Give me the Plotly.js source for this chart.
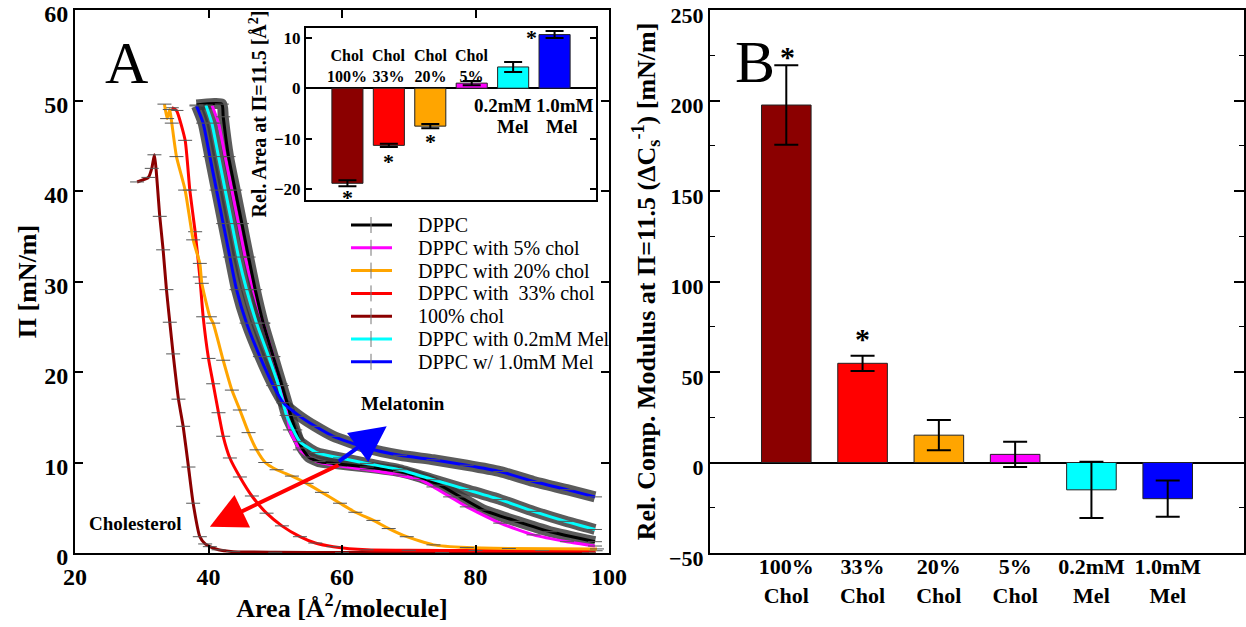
<!DOCTYPE html>
<html><head><meta charset="utf-8">
<script src="https://cdn.plot.ly/plotly-3.0.1.min.js"></script>
<style>html,body{margin:0;padding:0;background:#fff}#chart{width:1246px;height:627px}</style>
</head><body><div id="chart"></div>
<script>
// ---------------- Panel A: isotherms (Area [Å²/molecule], Π [mN/m]) ----------------
const seriesNames = ["DPPC", "DPPC with 5% chol", "DPPC with 20% chol", "DPPC with \u00a033% chol", "100% chol", "DPPC with 0.2mM Mel", "DPPC w/ 1.0mM Mel"];
const seriesColors = ["#000000", "#ff00ff", "#ffa500", "#ff0000", "#8b0000", "#00ffff", "#0000ff"];

const areaDPPC = [38.2, 42.0, 42.2, 43.0, 44.0, 45.0, 46.0, 47.0, 48.2, 49.7, 51.0, 52.0, 53.0, 54.0, 55.0, 56.5, 58.7, 63.7, 68.7, 71.7, 74.7, 77.7, 81.2, 86.2, 91.2, 97.9];
const piDPPC   = [49.5, 49.6, 48.2, 43.8, 40.1, 36.4, 32.7, 29.1, 25.4, 21.7, 18.5, 16.0, 13.6, 11.6, 10.6, 10.1, 9.9, 9.5, 9.0, 8.4, 7.5, 6.2, 4.75, 3.5, 2.35, 1.25];

const areaChol5 = [40.5, 41.5, 42.5, 43.5, 44.5, 45.5, 46.7, 48.2, 49.7, 50.8, 51.6, 52.2, 53.7, 56.2, 59.7, 63.7, 68.7, 71.7, 73.7, 76.2, 78.7, 83.7, 88.7, 93.7, 97.9];
const piChol5   = [49.5, 47.5, 43.8, 40.1, 36.4, 32.7, 29.1, 25.4, 21.7, 18.7, 16.0, 13.6, 11.4, 10.1, 9.6, 9.2, 8.6, 8.1, 7.3, 6.2, 5.1, 3.3, 2.0, 1.25, 0.77];

const areaChol20 = [33.4, 33.8, 34.2, 34.5, 35.2, 36.5, 37.7, 38.7, 39.0, 40.2, 40.7, 42.2, 43.5, 44.7, 46.0, 47.2, 48.5, 50.2, 52.5, 54.7, 57.0, 59.7, 62.0, 64.7, 67.0, 69.7, 73.7, 78.7, 85.0, 98.2];
const piChol20   = [49.6, 48.0, 49.0, 47.5, 43.8, 40.1, 34.6, 32.0, 29.8, 26.1, 25.4, 21.3, 18.0, 15.8, 13.3, 11.4, 10.0, 9.2, 8.5, 7.7, 6.7, 5.5, 4.5, 3.6, 2.7, 1.8, 0.9, 0.6, 0.5, 0.45];

const areaChol33 = [34.5, 35.2, 36.5, 37.2, 38.0, 38.7, 39.2, 40.0, 40.7, 41.5, 42.2, 43.2, 44.7, 46.5, 48.7, 51.0, 53.7, 56.0, 58.7, 63.7, 70.0, 80.0, 90.0, 98.0];
const piChol33   = [49.2, 48.9, 45.6, 40.1, 35.5, 30.5, 26.1, 21.5, 18.7, 15.5, 12.9, 10.5, 8.4, 6.3, 4.4, 3.0, 1.8, 1.1, 0.7, 0.35, 0.3, 0.28, 0.27, 0.25];

const areaChol100 = [29.3, 31.0, 31.5, 31.9, 32.7, 33.2, 33.7, 34.2, 34.7, 35.5, 36.2, 37.0, 37.7, 38.7, 39.5, 40.2, 41.5, 43.7, 50.0, 60.0, 75.0, 97.0];
const piChol100   = [41.0, 41.5, 42.5, 44.0, 37.2, 33.5, 29.1, 25.5, 22.0, 17.0, 14.0, 9.5, 5.5, 1.8, 1.0, 0.7, 0.35, 0.15, 0.08, 0.05, 0.04, 0.04];

const areaMel02 = [39.6, 40.5, 41.5, 42.5, 43.5, 44.5, 45.7, 47.2, 49.0, 50.5, 51.7, 53.7, 56.2, 59.7, 63.7, 68.7, 73.7, 78.7, 83.7, 88.7, 93.5, 97.9];
const piMel02   = [49.5, 47.5, 43.8, 40.1, 36.4, 32.7, 29.1, 25.4, 21.7, 18.5, 15.2, 12.3, 11.1, 10.5, 9.9, 9.2, 8.1, 7.0, 5.9, 4.6, 3.5, 2.6];

const areaMel10 = [38.2, 39.2, 40.2, 41.2, 42.2, 43.2, 44.2, 45.7, 47.7, 49.7, 51.2, 53.7, 56.0, 58.7, 63.7, 68.7, 73.7, 78.7, 83.7, 88.7, 93.7, 97.9];
const piMel10   = [49.4, 47.5, 43.8, 40.1, 36.4, 32.7, 29.1, 25.4, 21.7, 18.5, 16.6, 15.1, 14.0, 12.9, 11.6, 10.8, 10.3, 9.7, 9.0, 7.9, 7.0, 6.2];

// ---------------- Inset: relative area at Π=11.5 ----------------
const insetCholLabels = ["Chol<br>100%", "Chol<br>33%", "Chol<br>20%", "Chol<br>5%"];
const insetMelTop = ["0.2mM", "1.0mM"];
const insetMelBottom = ["Mel", "Mel"];
const relArea    = [-18.8, -11.3, -7.5, 1.0, 4.2, 10.6];
const relAreaErr = [0.6, 0.3, 0.4, 0.4, 1.0, 0.7];

// ---------------- Panel B: relative compressional modulus ----------------
const modLabels = ["100%<br>Chol", "33%<br>Chol", "20%<br>Chol", "5%<br>Chol", "0.2mM<br>Mel", "1.0mM<br>Mel"];
const modulus    = [197.5, 54.8, 15.1, 4.5, -15.1, -20.0];
const modulusErr = [22.0, 4.2, 8.4, 7.0, 15.5, 10.0];
const barColors = ["#8b0000", "#ff0000", "#ffa500", "#ff00ff", "#00ffff", "#0000ff"];
const barPos = [1, 2, 3, 4, 5, 6];

// ---------------- layout helpers ----------------
const W = 1246, H = 627;
const px = v => v / W;
const py = v => 1 - v / H;
const FONT = "Liberation Serif, Times New Roman, serif";

const curves = [
  [areaDPPC, piDPPC], [areaChol5, piChol5], [areaChol20, piChol20], [areaChol33, piChol33],
  [areaChol100, piChol100], [areaMel02, piMel02], [areaMel10, piMel10]
];
const banded = [0, 5, 6];

const traces = [];
banded.forEach(i => {
  traces.push({
    x: curves[i][0], y: curves[i][1], xaxis: 'x', yaxis: 'y', type: 'scatter', mode: 'lines',
    line: {color: 'rgba(55,55,55,0.82)', width: 11, shape: 'spline', smoothing: 0.5},
    showlegend: false, hoverinfo: 'skip'
  });
});
[4, 3, 2, 1, 0, 5, 6].forEach(i => {
  traces.push({
    x: curves[i][0], y: curves[i][1], xaxis: 'x', yaxis: 'y', type: 'scatter', mode: 'lines+markers',
    name: seriesNames[i],
    line: {color: seriesColors[i], width: 3, shape: 'spline', smoothing: 0.5},
    marker: {symbol: 'line-ew', size: 10, color: '#555', line: {color: '#555', width: 1}},
    showlegend: false
  });
});

// inset bars
traces.push({
  x: barPos, y: relArea, xaxis: 'x3', yaxis: 'y3', type: 'bar', width: 0.75,
  marker: {color: barColors, line: {color: '#222', width: 1}},
  error_y: {type: 'data', array: relAreaErr, visible: true, color: '#000', thickness: 2, width: 9},
  showlegend: false
});
// panel B bars
traces.push({
  x: barPos, y: modulus, xaxis: 'x2', yaxis: 'y2', type: 'bar', width: 0.65,
  marker: {color: barColors, line: {color: '#222', width: 1}},
  error_y: {type: 'data', array: modulusErr, visible: true, color: '#000', thickness: 2, width: 12},
  showlegend: false
});

const annotations = [];
const shapes = [];

// manual legend
seriesNames.forEach((n, i) => {
  const yy = 225 + i * 22.8;
  shapes.push({type: 'line', xref: 'paper', yref: 'paper', x0: px(351), x1: px(392), y0: py(yy), y1: py(yy),
    line: {color: seriesColors[i], width: 3}});
  shapes.push({type: 'line', xref: 'paper', yref: 'paper', x0: px(371), x1: px(371), y0: py(yy - 8), y1: py(yy + 8),
    line: {color: '#777', width: 1}});
  annotations.push({xref: 'paper', yref: 'paper', x: px(416), y: py(yy), xanchor: 'left', yanchor: 'middle',
    text: n, showarrow: false, font: {family: FONT, size: 20, color: '#000'}});
});

// panel letters
annotations.push({xref: 'paper', yref: 'paper', x: px(126), y: py(63), text: 'A', showarrow: false,
  xanchor: 'center', yanchor: 'middle', font: {family: FONT, size: 60, color: '#000'}});
annotations.push({xref: 'paper', yref: 'paper', x: px(755), y: py(62), text: 'B', showarrow: false,
  xanchor: 'center', yanchor: 'middle', font: {family: FONT, size: 60, color: '#000'}});

// arrows & labels in panel A
annotations.push({xref: 'x', yref: 'y', axref: 'x', ayref: 'y', x: 40.2, y: 2.9, ax: 59.7, ay: 9.8, text: '',
  showarrow: true, arrowhead: 2, arrowsize: 1.8, arrowwidth: 4, arrowcolor: '#ff0000'});
annotations.push({xref: 'x', yref: 'y', axref: 'x', ayref: 'y', x: 66.7, y: 14.0, ax: 59.3, ay: 10.0, text: '',
  showarrow: true, arrowhead: 2, arrowsize: 1.8, arrowwidth: 4, arrowcolor: '#0000ff'});
annotations.push({xref: 'x', yref: 'y', x: 69.2, y: 16.5, text: '<b>Melatonin</b>', showarrow: false,
  font: {family: FONT, size: 19, color: '#000'}});
annotations.push({xref: 'x', yref: 'y', x: 29.1, y: 3.3, text: '<b>Cholesterol</b>', showarrow: false,
  font: {family: FONT, size: 19, color: '#000'}});

// inset labels
insetCholLabels.forEach((t, i) => {
  annotations.push({xref: 'x3', yref: 'y3', x: barPos[i], y: 4.3, text: '<b>' + t + '</b>', showarrow: false,
    font: {family: FONT, size: 16, color: '#000'}});
});
const melTopX = [4.76, 6.25], melBotX = [4.99, 6.17];
insetMelTop.forEach((t, i) => {
  annotations.push({xref: 'x3', yref: 'y3', x: melTopX[i], y: -3.5, text: '<b>' + t + '</b>', showarrow: false,
    font: {family: FONT, size: 19, color: '#000'}});
  annotations.push({xref: 'x3', yref: 'y3', x: melBotX[i], y: -7.5, text: '<b>' + insetMelBottom[i] + '</b>', showarrow: false,
    font: {family: FONT, size: 19, color: '#000'}});
});
// inset significance stars
[[1, -20.9], [2, -13.6], [3, -9.75], [5.45, 10.9]].forEach(p => {
  annotations.push({xref: 'x3', yref: 'y3', x: p[0], y: p[1], text: '<b>*</b>', showarrow: false, yshift: -4,
    font: {family: FONT, size: 22, color: '#000'}});
});
// panel B stars
[[1.01, 229], [2, 73]].forEach(p => {
  annotations.push({xref: 'x2', yref: 'y2', x: p[0], y: p[1], text: '<b>*</b>', showarrow: false, yshift: -8,
    font: {family: FONT, size: 30, color: '#000'}});
});

const axisCommon = {
  showgrid: false, zeroline: false, showline: true, linecolor: '#000', linewidth: 2, mirror: 'ticks',
  ticks: 'inside', tickcolor: '#000', tickwidth: 2, ticklen: 8, ticklabeloverflow: 'allow',
  tickfont: {family: FONT, size: 24, color: '#000', weight: 'bold'}
};

const layout = {
  width: W, height: H, margin: {l: 0, r: 0, t: 0, b: 0}, paper_bgcolor: '#fff', plot_bgcolor: '#fff',
  showlegend: false, bargap: 0,
  xaxis: Object.assign({}, axisCommon, {domain: [px(75), px(609)], range: [20, 100], tickvals: [20, 40, 60, 80, 100],
    anchor: 'y', ticklabelstandoff: 1,
    title: {text: 'Area [Å<sup>2</sup>/molecule]', standoff: 1, font: {family: FONT, size: 26, color: '#000', weight: 'bold'}}}),
  yaxis: Object.assign({}, axisCommon, {domain: [py(553), py(10)], range: [0, 60], tickvals: [0, 10, 20, 30, 40, 50, 60],
    anchor: 'x', ticklabelshift: 4,
    title: {text: 'Π [mN/m]', standoff: 0, font: {family: FONT, size: 26, color: '#000', weight: 'bold'}}}),
  xaxis2: Object.assign({}, axisCommon, {domain: [px(710), px(1244)], range: [0, 7], anchor: 'y2', ticks: '',
    tickvals: barPos, ticktext: modLabels, ticklabelstandoff: -7,
    tickfont: {family: FONT, size: 22, color: '#000', weight: 'bold'}}),
  yaxis2: Object.assign({}, axisCommon, {domain: [py(553), py(10)], range: [-50, 250], anchor: 'x2',
    tickvals: [-50, 0, 50, 100, 150, 200, 250], ticklen: 10, ticklabelshift: 5,
    minor: {tickvals: [-25, 25, 75, 125, 175, 225], ticklen: 5, tickwidth: 1, tickcolor: '#000', ticks: 'inside'},
    zeroline: true, zerolinecolor: '#000', zerolinewidth: 2,
    tickfont: {family: FONT, size: 22, color: '#000', weight: 'bold'},
    title: {text: 'Rel. Comp. Modulus at Π=11.5 (ΔC<sub>s</sub><sup>-1</sup>) [mN/m]', standoff: 6,
      font: {family: FONT, size: 26, color: '#000', weight: 'bold'}}}),
  xaxis3: Object.assign({}, axisCommon, {domain: [px(306), px(596)], range: [0, 7], anchor: 'y3', ticks: '',
    showticklabels: false}),
  yaxis3: Object.assign({}, axisCommon, {domain: [py(200), py(28)], range: [-22.1, 11.9], anchor: 'x3',
    tickvals: [-20, -10, 0, 10], ticklen: 6,
    zeroline: true, zerolinecolor: '#000', zerolinewidth: 2,
    tickfont: {family: FONT, size: 17, color: '#000', weight: 'bold'},
    title: {text: 'Rel. Area at Π=11.5 [Å<sup>2</sup>]', standoff: 2, font: {family: FONT, size: 20, color: '#000', weight: 'bold'}}}),
  annotations: annotations,
  shapes: shapes
};

Plotly.newPlot('chart', traces, layout, {staticPlot: true, displayModeBar: false});
</script>
</body></html>
